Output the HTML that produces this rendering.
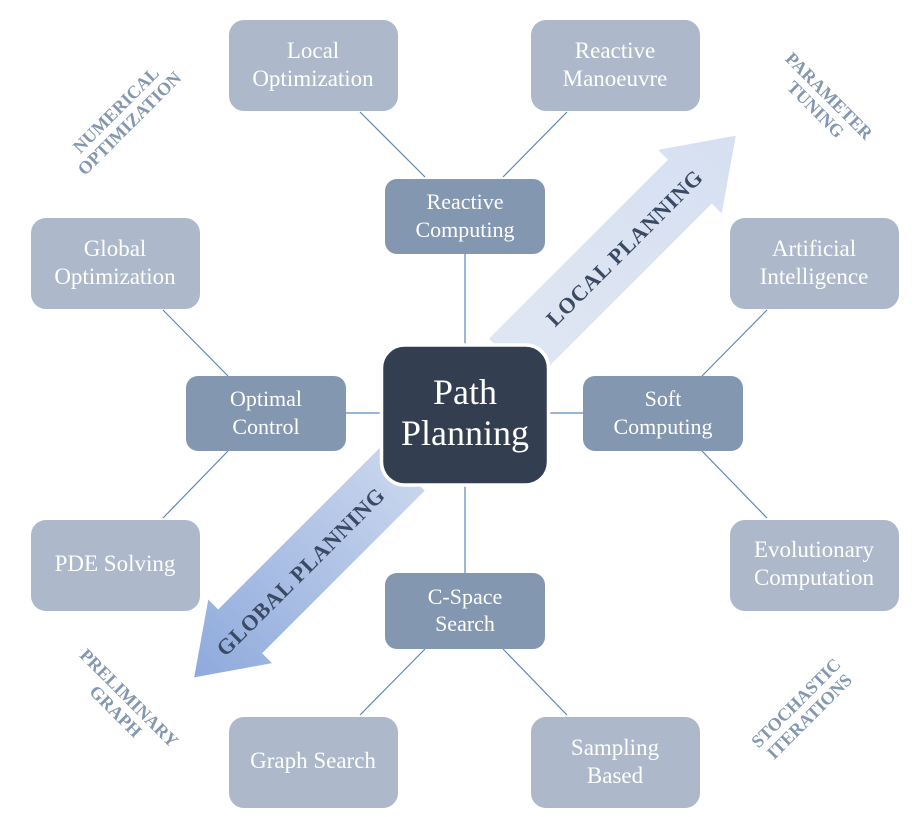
<!DOCTYPE html>
<html><head><meta charset="utf-8"><style>
html,body{margin:0;padding:0;background:#fff;}
svg{display:block;}
text{font-family:"Liberation Serif",serif;}
.w{fill:#fff;font-size:23px;text-anchor:middle;}
.m{fill:#fff;font-size:22px;text-anchor:middle;}
.c{fill:#8497b0;font-size:18px;font-weight:bold;text-anchor:middle;}
.a{fill:#3a4a63;font-size:22px;font-weight:bold;text-anchor:middle;letter-spacing:0.8px;}
</style></head><body>
<svg width="920" height="817" viewBox="0 0 920 817" xmlns="http://www.w3.org/2000/svg">
<defs>
<linearGradient id="gl" x1="0" y1="0" x2="1" y2="0">
<stop offset="0" stop-color="#dfe6f3"/><stop offset="1" stop-color="#d6e0f1"/>
</linearGradient>
<linearGradient id="gg" x1="0" y1="0" x2="1" y2="0">
<stop offset="0" stop-color="#8eaadc"/><stop offset="1" stop-color="#c8d5ed"/>
</linearGradient>
</defs>
<g stroke="#5b87bf" stroke-width="1.2">
<line x1="360" y1="112" x2="425" y2="177"/>
<line x1="567" y1="112" x2="503" y2="177"/>
<line x1="465" y1="254" x2="465" y2="346"/>
<line x1="465" y1="484" x2="465" y2="573"/>
<line x1="346" y1="413" x2="382" y2="413"/>
<line x1="548" y1="413" x2="583" y2="413"/>
<line x1="228" y1="376" x2="163" y2="310"/>
<line x1="228" y1="451" x2="163" y2="518"/>
<line x1="702" y1="376" x2="767" y2="310"/>
<line x1="702" y1="451" x2="767" y2="518"/>
<line x1="425" y1="649" x2="360" y2="715"/>
<line x1="503" y1="649" x2="567" y2="715"/>
</g>
<g transform="translate(465,406.5) rotate(-45)">
<polygon points="65,-31 318,-31 318,-45 383,0 318,45 318,31 65,31" fill="url(#gl)"/>
<text class="a" x="225" y="8">LOCAL PLANNING</text>
</g>
<g transform="translate(465,406.5) rotate(-45)">
<polygon points="-88,-31 -318,-31 -318,-45 -383,0 -318,45 -318,31 -88,31" fill="url(#gg)"/>
<text class="a" x="-233" y="8">GLOBAL PLANNING</text>
</g>
<g fill="#adb9ca">
<rect x="229" y="20" width="169" height="91" rx="15"/>
<rect x="531" y="20" width="169" height="91" rx="15"/>
<rect x="31" y="218" width="169" height="91" rx="15"/>
<rect x="730" y="218" width="169" height="91" rx="15"/>
<rect x="31" y="520" width="169" height="91" rx="15"/>
<rect x="730" y="520" width="169" height="91" rx="15"/>
<rect x="229" y="717" width="169" height="91" rx="15"/>
<rect x="531" y="717" width="169" height="91" rx="15"/>
</g>
<text class="w" x="313" y="58">Local</text><text class="w" x="313" y="86">Optimization</text>
<text class="w" x="615" y="58">Reactive</text><text class="w" x="615" y="86">Manoeuvre</text>
<text class="w" x="115" y="256">Global</text><text class="w" x="115" y="284">Optimization</text>
<text class="w" x="814" y="256">Artificial</text><text class="w" x="814" y="284">Intelligence</text>
<text class="w" x="115" y="571">PDE Solving</text>
<text class="w" x="814" y="557">Evolutionary</text><text class="w" x="814" y="585">Computation</text>
<text class="w" x="313" y="768">Graph Search</text>
<text class="w" x="615" y="755">Sampling</text><text class="w" x="615" y="783">Based</text>
<g fill="#8497b0">
<rect x="385" y="179" width="160" height="75" rx="12"/>
<rect x="186" y="376" width="160" height="75" rx="12"/>
<rect x="583" y="376" width="160" height="75" rx="12"/>
<rect x="385" y="573" width="160" height="76" rx="12"/>
</g>
<text class="m" x="465" y="209">Reactive</text><text class="m" x="465" y="237">Computing</text>
<text class="m" x="266" y="406">Optimal</text><text class="m" x="266" y="434">Control</text>
<text class="m" x="663" y="406">Soft</text><text class="m" x="663" y="434">Computing</text>
<text class="m" x="465" y="604">C-Space</text><text class="m" x="465" y="631">Search</text>
<rect x="381.5" y="345" width="167" height="140" rx="23" fill="#343e51" stroke="#fff" stroke-width="3.5"/>
<text x="465" y="404" fill="#fff" font-size="36" text-anchor="middle">Path</text>
<text x="465" y="445" fill="#fff" font-size="36" text-anchor="middle">Planning</text>
<g transform="translate(123,117) rotate(-45)"><text class="c" x="0" y="-4">NUMERICAL</text><text class="c" x="0" y="15">OPTIMIZATION</text></g>
<g transform="translate(822,103) rotate(45)"><text class="c" x="0" y="-4">PARAMETER</text><text class="c" x="0" y="15">TUNING</text></g>
<g transform="translate(122,705) rotate(45)"><text class="c" x="0" y="-4">PRELIMINARY</text><text class="c" x="0" y="15">GRAPH</text></g>
<g transform="translate(803,710) rotate(-45)"><text class="c" x="0" y="-4">STOCHASTIC</text><text class="c" x="0" y="15">ITERATIONS</text></g>
</svg>
</body></html>
